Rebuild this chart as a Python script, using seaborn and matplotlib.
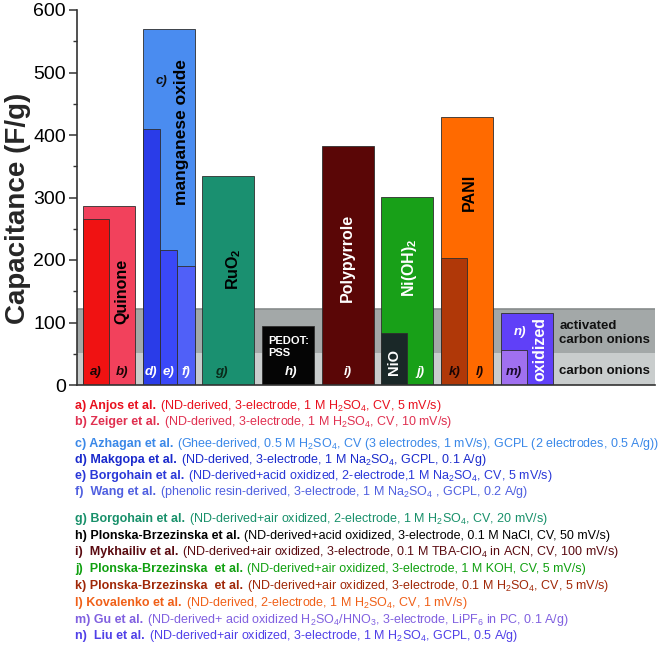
import numpy as np
import pandas as pd
import seaborn as sns
import matplotlib.pyplot as plt

# full-width bars, one per material group (drawn first, at the back)
wide_ids = ["b", "c", "g", "h", "i", "j", "l", "n"]
wide_vals = [287, 570, 334, 95, 383, 301, 429, 116]
wide_colors = ["#f2415c", "#4a8cf0", "#1a9070", "#050505",
               "#5a0606", "#18a018", "#ff6a00", "#6040f8"]

# half-width bars at the left of a group
half_ids = ["a", "NiO", "k", "m"]
half_groups = [0, 5, 6, 7]
half_vals = [265, 83, 204, 56]
half_colors = ["#f01212", "#1a2828", "#b03808", "#a070f0"]

# third-width bars in the manganese oxide group
third_ids = ["d", "e", "f"]
third_vals = [410, 216, 191]
third_colors = ["#2a3ce8", "#3a48f8", "#5060f8"]

# letter tags written at the foot of the bars
tag_text = ["a)", "b)", "d)", "e)", "f)", "g)", "h)", "i)", "j)", "k)", "l)", "m)"]
tag_colors = ["#1a0505", "#1a0505", "white", "white", "white", "#0a2a1a",
              "white", "white", "white", "#1a0505", "#1a0505", "#1a0a2a"]

# reference list under the chart
ref_keys = ["a)", "b)", "c)", "d)", "e)", "f) ", "g)", "h)", "i) ", "j) ", "k)", "l)", "m)", "n) "]
ref_names = ["Anjos et al.", "Zeiger et al.", "Azhagan et al.", "Makgopa et al.",
             "Borgohain et al.", "Wang et al.", "Borgohain et al.",
             "Plonska-Brzezinska et al.", "Mykhailiv et al.",
             "Plonska-Brzezinska  et al.", "Plonska-Brzezinska  et al.",
             "Kovalenko et al.", "Gu et al.", "Liu et al."]
ref_details = [
    "(ND-derived, 3-electrode, 1 M H$_2$SO$_4$, CV, 5 mV/s)",
    "(ND-derived, 3-electrode, 1 M H$_2$SO$_4$, CV, 10 mV/s)",
    "(Ghee-derived, 0.5 M H$_2$SO$_4$, CV (3 electrodes, 1 mV/s), GCPL (2 electrodes, 0.5 A/g))",
    "(ND-derived, 3-electrode, 1 M Na$_2$SO$_4$, GCPL, 0.1 A/g)",
    "(ND-derived+acid oxidized, 2-electrode,1 M Na$_2$SO$_4$, CV, 5 mV/s)",
    "(phenolic resin-derived, 3-electrode, 1 M Na$_2$SO$_4$ , GCPL, 0.2 A/g)",
    "(ND-derived+air oxidized, 2-electrode, 1 M H$_2$SO$_4$, CV, 20 mV/s)",
    "(ND-derived+acid oxidized, 3-electrode, 0.1 M NaCl, CV, 50 mV/s)",
    "(ND-derived+air oxidized, 3-electrode, 0.1 M TBA-ClO$_4$ in ACN, CV, 100 mV/s)",
    "(ND-derived+air oxidized, 3-electrode, 1 M KOH, CV, 5 mV/s)",
    "(ND-derived+air oxidized, 3-electrode, 0.1 M H$_2$SO$_4$, CV, 5 mV/s)",
    "(ND-derived, 2-electrode, 1 M H$_2$SO$_4$, CV, 1 mV/s)",
    "(ND-derived+ acid oxidized H$_2$SO$_4$/HNO$_3$, 3-electrode, LiPF$_6$ in PC, 0.1 A/g)",
    "(ND-derived+air oxidized, 3-electrode, 1 M H$_2$SO$_4$, GCPL, 0.5 A/g)",
]
ref_colors = ["#e8101e", "#e03050", "#3a88e8", "#1a2acc", "#2a38d8", "#5060e0",
              "#18906a", "#000000", "#5a0a10", "#10a010", "#a02808", "#f06018",
              "#8060e0", "#5040e8"]
ref_block = [0, 0, 1, 1, 1, 1, 2, 2, 2, 2, 2, 2, 2, 2]

sns.set_style("ticks")
plt.rcParams["font.family"] = ["Liberation Sans", "DejaVu Sans"]
plt.rcParams["mathtext.fontset"] = "custom"
plt.rcParams["mathtext.rm"] = "Liberation Sans"
plt.rcParams["mathtext.it"] = "Liberation Sans:italic"
plt.rcParams["mathtext.bf"] = "Liberation Sans:bold"
plt.rcParams["mathtext.default"] = "regular"

W, H = 661, 648
fig = plt.figure(figsize=(W / 100, H / 100), dpi=100)
ax = fig.add_axes([77 / W, 1 - 385 / H, (655 - 77) / W, 375 / H])

# group layout: one slot per material, bars fill 0.87 of a slot
gw = 0.87
g0 = np.arange(8) + 0.1

# background bands
ax.axhspan(0, 52, color="#c9cdcd", zorder=0, lw=0)
ax.axhspan(52, 122, color="#a3a8a8", zorder=0, lw=0)
ax.axhline(122, color="#878c8c", lw=1.2, zorder=0.5)

edge = dict(edgecolor="#2e2e2e", linewidth=0.6)

wide = pd.DataFrame({"id": wide_ids, "value": wide_vals, "pos": g0 + gw / 2})
sns.barplot(data=wide, x="pos", y="value", hue="id",
            palette=dict(zip(wide_ids, wide_colors)), native_scale=True,
            width=gw, saturation=1, errorbar=None, legend=False, dodge=False,
            orient="x", ax=ax, **edge)

half = pd.DataFrame({"id": half_ids, "value": half_vals,
                     "pos": g0[half_groups] + gw / 4})
sns.barplot(data=half, x="pos", y="value", hue="id",
            palette=dict(zip(half_ids, half_colors)), native_scale=True,
            width=gw / 2, saturation=1, errorbar=None, legend=False, dodge=False,
            orient="x", ax=ax, **edge)

third = pd.DataFrame({"id": third_ids, "value": third_vals,
                      "pos": g0[1] + gw / 6 + np.arange(3) * gw / 3})
sns.barplot(data=third, x="pos", y="value", hue="id",
            palette=dict(zip(third_ids, third_colors)), native_scale=True,
            width=1.0, saturation=1, errorbar=None, legend=False, dodge=False,
            orient="x", ax=ax, **edge)

ax.set_xlim(0, (655 - 77) / 59.7)
ax.set_ylim(0, 600)
ax.set_xlabel("")
ax.set_xticks([])
ax.set_yticks(np.arange(0, 601, 100))
ax.set_yticks(np.arange(50, 600, 100), minor=True)
ax.tick_params(axis="y", which="major", labelsize=14, length=6, width=1.1,
               pad=2, color="#333333", labelcolor="black")
ax.tick_params(axis="y", which="minor", length=3, width=1.0, color="#333333")
ax.set_ylabel("Capacitance (F/g)", fontsize=20, fontweight="bold")
ax.yaxis.set_label_coords(-0.08, 0.47)
for s in ["left", "bottom"]:
    ax.spines[s].set_color("#333333")
    ax.spines[s].set_linewidth(1.2)
sns.despine(ax=ax)

# tags at the foot of each bar
tag_x = [g0[0] + gw / 4, g0[0] + 3 * gw / 4,
         *(g0[1] + gw / 6 + np.arange(3) * gw / 3),
         g0[2] + gw / 2 - 0.12, g0[3] + gw / 2 + 0.05, g0[4] + gw / 2,
         g0[5] + 3 * gw / 4, g0[6] + gw / 4, g0[6] + 3 * gw / 4, g0[7] + gw / 4]
for x, t, c in zip(tag_x, tag_text, tag_colors):
    ax.text(x, 21, t, color=c, fontsize=9.5, style="italic", fontweight="bold",
            ha="center", va="center", zorder=5)
ax.text(g0[1] + 0.32, 486, "c)", color="#101010", fontsize=9.5, style="italic",
        fontweight="bold", ha="center", va="center", zorder=5)
ax.text(g0[7] + 0.32, 84, "n)", color="white", fontsize=9.5, style="italic",
        fontweight="bold", ha="center", va="center", zorder=5)

# material names
vt = dict(rotation=90, ha="center", va="center", fontweight="bold", zorder=5)
ax.text(g0[0] + 3 * gw / 4, 150, "Quinone", color="black", fontsize=11.5, **vt)
ax.text(g0[1] + 0.65, 405, "manganese oxide", color="black", fontsize=12.5, **vt)
ax.text(g0[2] + 0.52, 185, "RuO$_\\mathbf{2}$", color="black", fontsize=11.5, **vt)
ax.text(g0[4] + gw / 2, 203, "Polypyrrole", color="white", fontsize=11.5, **vt)
ax.text(g0[5] + gw / 4, 37, "NiO", color="white", fontsize=10.5, **vt)
ax.text(g0[5] + gw / 2 + 0.03, 187, "Ni(OH)$_\\mathbf{2}$", color="white", fontsize=11.5, **vt)
ax.text(g0[6] + gw / 2 + 0.03, 308, "PANI", color="black", fontsize=11.5, **vt)
ax.text(g0[7] + 3 * gw / 4, 57, "oxidized", color="white", fontsize=11.5, **vt)
ax.text(g0[3] + 0.1, 61, "PEDOT:\nPSS", color="white", fontsize=8, fontweight="bold",
        ha="left", va="center", linespacing=1.3, zorder=5)
ax.text(g0[7] + 0.98, 83, "activated\ncarbon onions", color="#111111", fontsize=9.5,
        fontweight="bold", ha="left", va="center", linespacing=1.15, zorder=5)
ax.text(g0[7] + 0.98, 23, "carbon onions", color="#111111", fontsize=9.5,
        fontweight="bold", ha="left", va="center", zorder=5)

# reference list: bold author, regular details, same colour
renderer = fig.canvas.get_renderer()
block_start = [405, 443, 518]
pitch = [16.2, 16.2, 16.8]
counts = {0: 0, 1: 0, 2: 0}
for key, name, det, col, blk in zip(ref_keys, ref_names, ref_details, ref_colors, ref_block):
    yc = block_start[blk] + counts[blk] * pitch[blk]
    counts[blk] += 1
    yb = 1 - (yc + 3.8) / H
    t1 = fig.text(75 / W, yb, key + " " + name, color=col, fontsize=9.0,
                  fontweight="bold", va="baseline", ha="left")
    bb = t1.get_window_extent(renderer)
    fig.text((bb.x1 + 4) / W, yb, det, color=col, fontsize=9.0,
             va="baseline", ha="left")

fig.savefig("out.png", dpi=100)
